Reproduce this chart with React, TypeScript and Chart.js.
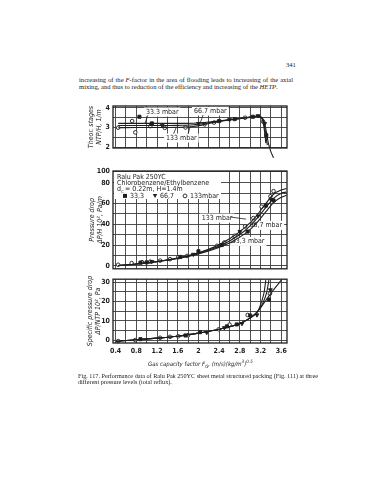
import React, { useEffect, useRef } from "react";
import { Chart, registerables } from "chart.js";
Chart.register(...registerables);

const NARROW = "'Liberation Sans Narrow', 'DejaVu Sans Condensed', sans-serif";
const SERIF = "'Liberation Serif', 'DejaVu Serif', serif";
const INK = "#1e1e1e";
const GRID = "#3c3c3c";

// ---------- shared x axis ----------
const xGridValues = [0.4, 0.6, 0.8, 1.0, 1.2, 1.4, 1.6, 1.8, 2.0, 2.2, 2.4, 2.6, 2.8, 3.0, 3.2, 3.4, 3.6];
const xTickLabels = ["0.4", "0.8", "1.2", "1.6", "2", "2.4", "2.8", "3.2", "3.6"];
const X_MIN = 0.35;
const X_MAX = 3.71;

// ---------- top: theoretical stages NTP/H ----------
const ntpGridValues = [2, 2.5, 3, 3.5, 4];
const ntpTickLabels: [number, string][] = [[2, "2"], [3, "3"], [4, "4"]];
const ntp333Curve: [number, number][] = [[0.45, 3.21], [0.8, 3.21], [1.2, 3.21], [1.6, 3.21], [1.9, 3.22], [2.2, 3.28], [2.5, 3.37], [2.8, 3.46], [3.0, 3.53], [3.15, 3.58], [3.22, 3.52], [3.27, 3.3], [3.31, 2.8], [3.35, 2.2], [3.4, 1.75], [3.45, 1.45]];
const ntp667Curve: [number, number][] = [[0.45, 3.1], [0.8, 3.1], [1.2, 3.1], [1.6, 3.11], [1.9, 3.14], [2.2, 3.24], [2.5, 3.36], [2.8, 3.46], [3.0, 3.53], [3.15, 3.58], [3.22, 3.5], [3.27, 3.2], [3.3, 2.6], [3.33, 2.1]];
const ntp133Curve: [number, number][] = [[0.45, 2.99], [0.8, 3.0], [1.2, 3.0], [1.6, 3.01], [1.9, 3.05], [2.2, 3.2], [2.5, 3.35], [2.8, 3.45], [3.0, 3.52], [3.15, 3.57], [3.22, 3.48], [3.26, 3.1], [3.29, 2.5], [3.3, 2.2]];
const ntp333Points: [number, number][] = [[0.86, 3.55], [1.1, 3.21], [2.4, 3.33], [2.7, 3.43], [3.05, 3.55], [3.31, 2.6], [3.44, 1.6]];
const ntp667Points: [number, number][] = [[1.3, 3.1], [2.0, 3.2], [2.6, 3.4], [3.15, 3.6], [3.28, 3.2]];
const ntp133Points: [number, number][] = [[0.45, 2.99], [0.72, 3.33], [0.78, 2.75], [1.07, 3.07], [1.35, 2.98], [1.75, 3.0], [2.12, 3.16], [2.3, 3.25], [2.9, 3.5], [3.25, 3.3]];

// ---------- middle: pressure drop ----------
const DP_MAX = 91.4;
const dpGridValues = [0, 10, 20, 30, 40, 50, 60, 70, 80, DP_MAX];
const dpTickLabels: [number, string][] = [[0, "0"], [20, "20"], [40, "40"], [60, "60"], [80, "80"], [DP_MAX, "100"]];
const dp333Curve: [number, number][] = [[0.45, 0.3], [0.8, 1.8], [1.2, 4], [1.6, 7], [2.0, 11.5], [2.3, 16], [2.6, 22], [2.9, 31], [3.1, 40], [3.3, 52], [3.45, 61], [3.6, 66], [3.7, 68]];
const dp667Curve: [number, number][] = [[0.45, 0.3], [0.8, 1.8], [1.2, 4], [1.6, 7.2], [2.0, 12], [2.3, 17], [2.6, 24], [2.9, 34], [3.1, 44], [3.3, 56], [3.45, 65], [3.6, 70], [3.7, 71]];
const dp133Curve: [number, number][] = [[0.45, 0.3], [0.8, 1.8], [1.2, 4.2], [1.6, 7.5], [2.0, 12.5], [2.3, 18], [2.6, 26], [2.9, 37], [3.1, 47], [3.3, 60], [3.45, 69], [3.6, 73], [3.7, 74.5]];
const dp333Points: [number, number][] = [[0.88, 3], [1.0, 3.3], [1.65, 8.5], [2.0, 14], [2.45, 20], [2.95, 33], [3.3, 58], [3.45, 63]];
const dp667Points: [number, number][] = [[1.1, 4], [1.9, 11], [2.8, 33], [3.15, 48], [3.4, 64]];
const dp133Points: [number, number][] = [[0.45, 1], [0.71, 2.6], [0.91, 3.5], [1.07, 4], [1.26, 5], [1.45, 6.4], [1.61, 8.3], [1.78, 9.5], [2.36, 19.3], [2.5, 22.5], [2.7, 29], [2.9, 38], [3.06, 46], [3.22, 57], [3.39, 67], [3.45, 72]];

// ---------- bottom: specific pressure drop ----------
const spGridValues = [0, 5, 10, 15, 20, 25, 30];
const spTickLabels: [number, string][] = [[0, "0"], [10, "10"], [20, "20"], [30, "30"]];
const sp333Curve: [number, number][] = [[0.42, -0.6], [0.8, 0.2], [1.2, 1], [1.6, 2], [2.0, 3.6], [2.4, 5.6], [2.8, 8.6], [3.0, 11.5], [3.15, 15], [3.3, 20.5], [3.45, 26], [3.6, 31]];
const sp667Curve: [number, number][] = [[0.42, -0.6], [0.8, 0.2], [1.2, 1], [1.6, 2], [2.0, 3.6], [2.4, 5.6], [2.8, 8.6], [3.0, 11.5], [3.15, 15], [3.25, 19.5], [3.32, 25], [3.36, 31]];
const sp133Curve: [number, number][] = [[0.42, -0.6], [0.8, 0.2], [1.2, 1], [1.6, 2], [2.0, 3.6], [2.4, 5.6], [2.8, 8.6], [3.0, 11.5], [3.15, 15], [3.22, 20], [3.27, 25], [3.3, 31]];
const sp333Points: [number, number][] = [[0.88, 0.5], [1.75, 2.4], [2.03, 4.1], [2.55, 7.1], [2.74, 8.1], [3.0, 12.7], [3.36, 21]];
const sp667Points: [number, number][] = [[2.16, 3.9], [2.5, 6.4], [2.84, 8.5], [3.13, 13], [3.39, 26]];
const sp133Points: [number, number][] = [[0.45, -0.5], [0.78, 0], [1.26, 1.2], [1.45, 1.7], [1.61, 2], [1.8, 2.5], [2.39, 5.6], [2.6, 8], [2.95, 13], [3.38, 24]];

type Note = { x: number; y: number; text: string; leaders: [number, number, number, number][] };

const ntpNotes: Note[] = [
  { x: 1.3, y: 3.79, text: "33.3 mbar", leaders: [[1.02, 3.62, 0.97, 3.22]] },
  { x: 2.23, y: 3.84, text: "66.7 mbar", leaders: [[2.09, 3.64, 2.03, 3.2]] },
  { x: 1.67, y: 2.46, text: "133 mbar", leaders: [[1.52, 2.68, 1.57, 3.0], [1.8, 2.68, 1.84, 3.05]] },
];
const dpNotes: Note[] = [
  { x: 2.36, y: 46, text: "133 mbar", leaders: [[2.62, 47, 2.92, 45]] },
  { x: 3.3, y: 39, text: "66,7 mbar", leaders: [[3.12, 41, 3.02, 40]] },
  { x: 2.96, y: 23.5, text: "33,3 mbar", leaders: [[2.72, 24, 2.62, 22]] },
];

const legendLines = ["Ralu Pak 250YC", "Chlorobenzene/Ethylbenzene", "d  = 0.22m, H=1.4m"];
const legendItems = [
  { label: "33,3", shape: "rect" },
  { label: "66,7", shape: "tri" },
  { label: "133mbar", shape: "circle" },
];

function findLabel(list: [number, string][], v: number) {
  const l = list.find((t) => Math.abs(t[0] - v) < 1e-6);
  return l ? l[1] : "";
}
const xLabelPairs: [number, string][] = xTickLabels.map((t) => [parseFloat(t), t]);

function xScale(show: boolean) {
  return {
    type: "linear",
    min: X_MIN,
    max: X_MAX,
    afterBuildTicks: (s: any) => {
      s.ticks = xGridValues.map((v) => ({ value: v }));
    },
    afterFit: (s: any) => {
      s.height = show ? 14 : 0;
    },
    grid: { color: GRID, lineWidth: 0.9, drawTicks: false },
    border: { display: false },
    ticks: {
      display: show,
      autoSkip: false,
      maxRotation: 0,
      padding: 4,
      color: INK,
      font: { family: NARROW, size: 7, weight: "bold" },
      callback: (v: any) => findLabel(xLabelPairs, Number(v)),
    },
  };
}

function yScale(min: number, max: number, grid: number[], labels: [number, string][], title: string[], titlePad: number) {
  return {
    type: "linear",
    min,
    max,
    afterBuildTicks: (s: any) => {
      s.ticks = grid.map((v) => ({ value: v }));
    },
    afterFit: (s: any) => {
      s.width = 53;
    },
    grid: { color: GRID, lineWidth: 0.9, drawTicks: false },
    border: { display: false },
    title: {
      display: true,
      text: title,
      color: INK,
      font: { family: NARROW, size: 7, style: "italic", lineHeight: 1.2 },
      padding: { top: titlePad, bottom: 0 },
    },
    ticks: {
      autoSkip: false,
      padding: 3,
      color: INK,
      font: { family: NARROW, size: 7, weight: "bold" },
      callback: (v: any) => findLabel(labels, Number(v)),
    },
  };
}

function curveDs(data: [number, number][]) {
  return {
    type: "line",
    data,
    borderColor: INK,
    borderWidth: 1.1,
    pointRadius: 0,
    fill: false,
    cubicInterpolationMode: "monotone",
    clip: false,
  };
}

function pointDs(data: [number, number][], kind: "rect" | "tri" | "circle") {
  return {
    type: "line",
    data,
    showLine: false,
    clip: false,
    pointStyle: kind === "rect" ? "rect" : kind === "tri" ? "triangle" : "circle",
    pointRotation: kind === "tri" ? 180 : 0,
    pointRadius: kind === "circle" ? 1.8 : 2.2,
    pointBorderWidth: 0.9,
    pointBorderColor: INK,
    pointBackgroundColor: kind === "circle" ? "#ffffff" : INK,
  };
}

function drawNotes(chart: any, notes: Note[]) {
  const { ctx, scales } = chart;
  const xs = scales.x;
  const ys = scales.y;
  ctx.save();
  ctx.font = `7px ${NARROW}`;
  ctx.textAlign = "center";
  ctx.textBaseline = "middle";
  for (const n of notes) {
    const px = xs.getPixelForValue(n.x);
    const py = ys.getPixelForValue(n.y);
    const w = ctx.measureText(n.text).width + 4;
    ctx.fillStyle = "#ffffff";
    ctx.fillRect(px - w / 2, py - 4.5, w, 9);
    ctx.fillStyle = INK;
    ctx.fillText(n.text, px, py);
    ctx.strokeStyle = INK;
    ctx.lineWidth = 0.8;
    for (const [x1, y1, x2, y2] of n.leaders) {
      ctx.beginPath();
      ctx.moveTo(xs.getPixelForValue(x1), ys.getPixelForValue(y1));
      ctx.lineTo(xs.getPixelForValue(x2), ys.getPixelForValue(y2));
      ctx.stroke();
    }
  }
  ctx.restore();
}

function drawLegend(chart: any) {
  const { ctx, chartArea: a } = chart;
  ctx.save();
  ctx.fillStyle = "#ffffff";
  ctx.fillRect(a.left + 1, a.top + 1, 107, 27);
  ctx.fillStyle = INK;
  ctx.font = `7px ${NARROW}`;
  ctx.textAlign = "left";
  ctx.textBaseline = "middle";
  const x0 = a.left + 4;
  legendLines.forEach((t, i) => ctx.fillText(t, x0, a.top + 6 + i * 6.3));
  ctx.font = `5px ${NARROW}`;
  ctx.fillText("c", x0 + 4.3, a.top + 6 + 2 * 6.3 + 2);
  ctx.font = `7px ${NARROW}`;
  const ly = a.top + 6 + 3 * 6.3;
  const slots = [a.left + 12, a.left + 42, a.left + 72];
  legendItems.forEach((it, i) => {
    const sx = slots[i];
    ctx.fillStyle = INK;
    ctx.strokeStyle = INK;
    ctx.lineWidth = 0.9;
    if (it.shape === "rect") ctx.fillRect(sx - 2, ly - 2, 4, 4);
    else if (it.shape === "tri") {
      ctx.beginPath();
      ctx.moveTo(sx - 2.2, ly - 2);
      ctx.lineTo(sx + 2.2, ly - 2);
      ctx.lineTo(sx, ly + 2.2);
      ctx.closePath();
      ctx.fill();
    } else {
      ctx.beginPath();
      ctx.arc(sx, ly, 1.9, 0, Math.PI * 2);
      ctx.stroke();
    }
    ctx.fillText(it.label, sx + 5, ly);
  });
  ctx.restore();
}

function framePlugin(notes: Note[], legend: boolean) {
  return {
    id: "frameNotes",
    beforeDatasetsDraw(chart: any) {
      drawNotes(chart, notes);
      if (legend) drawLegend(chart);
    },
    afterDatasetsDraw(chart: any) {
      const { ctx, chartArea: a } = chart;
      ctx.save();
      ctx.strokeStyle = INK;
      ctx.lineWidth = 1.3;
      ctx.strokeRect(a.left, a.top, a.right - a.left, a.bottom - a.top);
      ctx.restore();
    },
  };
}

function makeConfig(datasets: any[], y: any, showX: boolean, padTop: number, padBottom: number, notes: Note[], legend: boolean) {
  return {
    type: "line",
    data: { datasets },
    options: {
      responsive: false,
      animation: false,
      parsing: true,
      layout: { padding: { left: 0, right: 13, top: padTop, bottom: padBottom } },
      plugins: { legend: { display: false }, tooltip: { enabled: false } },
      scales: { x: xScale(showX), y },
    },
    plugins: [framePlugin(notes, legend)],
  };
}

function ChartCanvas({ left, top, width, height, config }: any) {
  const ref = useRef<HTMLCanvasElement>(null);
  useEffect(() => {
    const c = new Chart(ref.current as HTMLCanvasElement, config);
    return () => c.destroy();
  }, []);
  return (
    <canvas
      ref={ref}
      width={width}
      height={height}
      style={{ position: "absolute", left, top, width, height }}
    />
  );
}

const ntpConfig = makeConfig(
  [
    curveDs(ntp333Curve), curveDs(ntp667Curve), curveDs(ntp133Curve),
    pointDs(ntp333Points, "rect"), pointDs(ntp667Points, "tri"), pointDs(ntp133Points, "circle"),
  ],
  yScale(1.95, 4.1, ntpGridValues, ntpTickLabels, ["Theor. stages", "NTP/H, 1/m"], 27),
  false, 10, 18, ntpNotes, false
);
const dpConfig = makeConfig(
  [
    curveDs(dp333Curve), curveDs(dp667Curve), curveDs(dp133Curve),
    pointDs(dp333Points, "rect"), pointDs(dp667Points, "tri"), pointDs(dp133Points, "circle"),
  ],
  yScale(-2.9, DP_MAX, dpGridValues, dpTickLabels, ["Pressure drop", "\u0394P/H 10\u00b2, Pa/m"], 28),
  false, 11, 6, dpNotes, true
);
const spConfig = makeConfig(
  [
    curveDs(sp333Curve), curveDs(sp667Curve), curveDs(sp133Curve),
    pointDs(sp333Points, "rect"), pointDs(sp667Points, "tri"), pointDs(sp133Points, "circle"),
  ],
  yScale(-1.5, 31.5, spGridValues, spTickLabels, ["Specific pressure drop", "\u0394P/NTP 10\u00b2, Pa"], 26),
  true, 6, 15, [], false
);

const textStyle: React.CSSProperties = {
  position: "absolute",
  fontFamily: SERIF,
  fontSize: 6.6,
  lineHeight: "7px",
  color: "#222",
  whiteSpace: "nowrap",
  textAlign: "justify",
  textAlignLast: "justify" as any,
};

export default function App() {
  return (
    <div style={{ position: "absolute", left: 0, top: 0, width: 367, height: 480, background: "#fff" }}>
      <div style={{ ...textStyle, left: 286, top: 61, textAlignLast: "auto" as any }}>341</div>
      <div style={{ ...textStyle, left: 79, top: 76, width: 214 }}>
        increasing of the <i>F</i>-factor in the area of flooding leads to increasing of the axial
      </div>
      <div style={{ ...textStyle, left: 79, top: 83, width: 194 }}>
        mixing, and thus to reduction of the efficiency and increasing of the <i>HETP</i>.
      </div>

      <ChartCanvas left={60} top={96} width={240} height={70} config={ntpConfig} />
      <ChartCanvas left={60} top={160} width={240} height={116} config={dpConfig} />
      <ChartCanvas left={60} top={272} width={240} height={100} config={spConfig} />

      <div
        style={{
          position: "absolute",
          left: 148,
          top: 359,
          fontFamily: NARROW,
          fontStyle: "italic",
          fontSize: 6,
          color: INK,
          whiteSpace: "nowrap",
        }}
      >
        Gas capacity factor F<sub style={{ fontSize: 4.5 }}>G</sub>, (m/s)(kg/m<sup style={{ fontSize: 4.5 }}>3</sup>)<sup style={{ fontSize: 4.5 }}>0.5</sup>
      </div>

      <div style={{ ...textStyle, fontSize: 6.2, left: 78, top: 372, width: 215 }}>
        Fig. 117. Performance data of Ralu Pak 250YC sheet metal structured packing (Fig. 111) at three
      </div>
      <div style={{ ...textStyle, fontSize: 6.2, left: 78, top: 378, textAlignLast: "auto" as any }}>
        different pressure levels (total reflux).
      </div>
    </div>
  );
}
